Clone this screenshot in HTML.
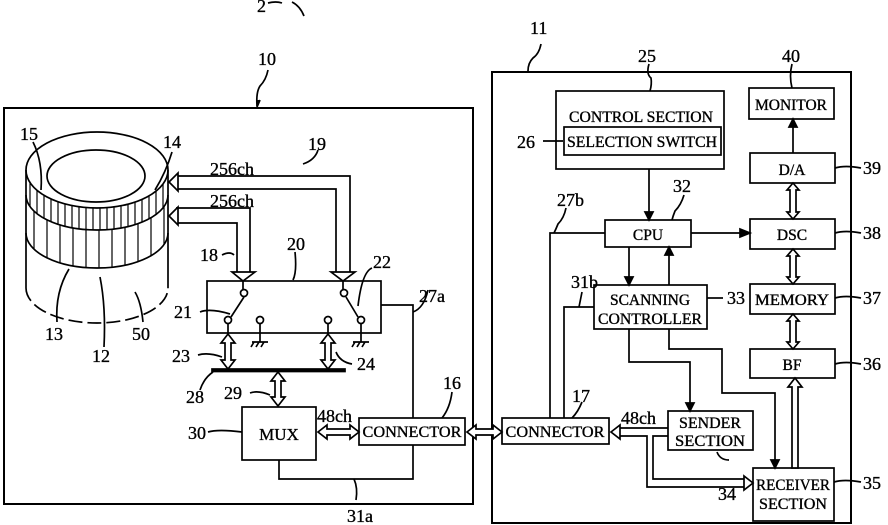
<!DOCTYPE html>
<html><head><meta charset="utf-8"><style>
html,body{margin:0;padding:0;background:#fff;}
svg{display:block;}
text{font-family:"Liberation Serif",serif;fill:#000;stroke:#000;stroke-width:0.35;}
.l{font-size:18px;}
.b{font-size:15.5px;}
</style></head><body>
<svg width="888" height="525" viewBox="0 0 888 525" xmlns="http://www.w3.org/2000/svg">
<g fill="none" stroke="#000" stroke-width="1.7">
<rect x="4" y="108" width="469" height="396" stroke-width="2"/>
<rect x="492" y="72" width="359" height="451" stroke-width="2"/>
<path d="M268 70 q-2 10 -8 16 q-4 6 -3 20"/>
<path d="M258 100 l-1 7 l3 -7" fill="#000"/>
<path d="M541 44 q-2 10 -8 14 q-5 5 -5 13"/>
<path d="M292 2 q8 4 12 14"/>
<path d="M268 3 q8 -2 14 0"/>
<ellipse cx="97" cy="170" rx="71" ry="38"/>
<ellipse cx="96" cy="176" rx="49" ry="26"/>
<path d="M26 170 V288 M168 170 V288"/>
<path d="M26 195 A71 35 0 0 0 168 195"/>
<path d="M26 233 A71 35 0 0 0 168 233"/>
<path d="M26 288 A71 35 0 0 0 168 288" stroke-dasharray="14 5"/>
<g id="stripes" stroke-width="1.2"></g>
<path d="M33 142 q10 20 8 48"/>
<path d="M172 152 q-6 20 -17 38"/>
<path d="M57 322 q-2 -30 12 -53"/>
<path d="M104 347 q2 -40 -4 -70"/>
<path d="M143 322 q-2 -20 -8 -30"/>
<path d="M176 176 H350 V272 M176 189 H336 V272"/>
<path d="M176 208 H250 V272 M176 223 H237 V272"/>
<path d="M169 182 l9 -9 v18 z" fill="#fff"/>
<path d="M169 216 l9 -9 v18 z" fill="#fff"/>
<path d="M331 272 h24 l-12 9 z" fill="#fff"/>
<path d="M232 272 h23 l-12 9 z" fill="#fff"/>
<path d="M318 150 q-3 10 -15 14"/>
<path d="M222 255 q8 -4 12 0"/>
<path d="M295 252 q2 20 -2 28"/>
<rect x="207" y="281" width="174" height="52"/>
<circle cx="244" cy="293" r="3.5" fill="#fff"/>
<circle cx="228" cy="320" r="3.5" fill="#fff"/>
<circle cx="260" cy="320" r="3.5" fill="#fff"/>
<circle cx="344" cy="293" r="3.5" fill="#fff"/>
<circle cx="361" cy="320" r="3.5" fill="#fff"/>
<circle cx="328" cy="320" r="3.5" fill="#fff"/>
<path d="M243 281 v8 M343 281 v8"/>
<path d="M231 317 L244 297 M346 297 L358 317"/>
<path d="M260 324 V342 M252 342 h16 M254 342 l-3 5 M259 342 l-3 5 M264 342 l-3 5"/>
<path d="M361 324 V342 M353 342 h16 M355 342 l-3 5 M360 342 l-3 5 M365 342 l-3 5"/>
<path d="M228 324 V334 M328 324 V334"/>
<path d="M200 312 q10 -4 30 2"/>
<path d="M372 268 q-10 4 -14 38"/>
<path d="M228 334 l7 9 h-4 v17 h4 l-7 9 l-7 -9 h4 v-17 h-4 z" fill="#fff"/>
<path d="M328 334 l7 9 h-4 v17 h4 l-7 9 l-7 -9 h4 v-17 h-4 z" fill="#fff"/>
<rect x="212" y="369" width="133" height="2.5" fill="#000"/>
<path d="M278 372 l7 9 h-4 v16 h4 l-7 9 l-7 -9 h4 v-16 h-4 z" fill="#fff"/>
<path d="M198 355 q10 -3 24 2"/>
<path d="M336 352 q4 10 16 12"/>
<path d="M200 390 q4 -12 13 -18"/>
<path d="M250 393 q8 -3 20 2"/>
<rect x="242" y="407" width="74" height="53"/>
<rect x="359" y="418" width="106" height="27"/>
<path d="M208 432 q10 -3 34 0"/>
<path d="M452 392 q-2 16 -10 26"/>
<path d="M318 432 l9 -7 v4 h23 v-4 l9 7 l-9 7 v-4 h-23 v4 z" fill="#fff"/>
<path d="M381 305 H413 V418 M279 460 V479 H413 V445"/>
<path d="M428 290 q-4 18 -15 22"/>
<path d="M356 500 q2 -12 -2 -21"/>
<path d="M467 432 l9 -7 v4 h17 v-4 l9 7 l-9 7 v-4 h-17 v4 z" fill="#fff"/>
<rect x="556" y="91" width="168" height="78"/>
<rect x="564" y="127" width="157" height="28"/>
<path d="M543 141 h20"/>
<path d="M649 64 q-3 10 2 14 q1 6 -1 13"/>
<rect x="605" y="220" width="86" height="27"/>
<rect x="749" y="88" width="85" height="31"/>
<rect x="750" y="153" width="85" height="30"/>
<rect x="750" y="219" width="85" height="30"/>
<rect x="750" y="284" width="85" height="30"/>
<rect x="750" y="349" width="85" height="29"/>
<rect x="753" y="468" width="81" height="53"/>
<rect x="594" y="285" width="113" height="44"/>
<rect x="668" y="411" width="85" height="39"/>
<rect x="502" y="418" width="107" height="26"/>
<path d="M792 64 q-3 12 0 24"/>
<path d="M835 168 q10 -3 26 0 M835 233 q10 -3 26 0 M835 298 q10 -3 26 0 M835 364 q10 -3 26 0 M834 482 q10 -3 27 0"/>
<path d="M707 298 h16"/>
<path d="M649 169 V216"/><path d="M645 212 h8 l-4 8 z" fill="#000"/>
<path d="M691 233 H744"/><path d="M740 229 v8 l10 -4 z" fill="#000"/>
<path d="M629 247 V280"/><path d="M625 277 h8 l-4 8 z" fill="#000"/>
<path d="M669 285 V252"/><path d="M665 255 h8 l-4 -8 z" fill="#000"/>
<path d="M793 153 V125"/><path d="M789 127 h8 l-4 -8 z" fill="#000"/>
<path d="M605 233 H550 V418 M594 307 H564 V418"/>
<path d="M629 329 V362 H690 V405"/><path d="M686 403 h8 l-4 8 z" fill="#000"/>
<path d="M669 329 V349 H722 V393 H775 V462"/><path d="M771 460 h8 l-4 8 z" fill="#000"/>
<path d="M793 183 l6 7 h-3 v22 h3 l-6 7 l-6 -7 h3 v-22 h-3 l6 -7 z" fill="#fff"/>
<path d="M793 249 l6 7 h-3 v21 h3 l-6 7 l-6 -7 h3 v-21 h-3 l6 -7 z" fill="#fff"/>
<path d="M793 314 l6 7 h-3 v21 h3 l-6 7 l-6 -7 h3 v-21 h-3 l6 -7 z" fill="#fff"/>
<path d="M795 378 l7 9 h-4 v81 h-6 v-81 h-4 z" fill="#fff"/>
<path d="M566 208 q-2 10 -8 16 q-2 5 -4 9"/>
<path d="M684 195 q-3 10 -9 16 q-2 5 -3 9"/>
<path d="M582 292 q-2 10 -3 15"/>
<path d="M582 402 q-4 10 -10 16"/>
<path d="M717 452 q3 8 12 8"/>
<path d="M668 428 H619 M668 436 H653 V479 H745 M619 436 H647 V487 H745"/>
<path d="M611 432 l9 -7 v14 z" fill="#fff"/>
<path d="M753 483 l-9 -7 v14 z" fill="#fff"/>
</g>
<g class="l">
<text x="257" y="12">2</text>
<text x="258" y="65">10</text>
<text x="530" y="34">11</text>
<text x="20" y="140">15</text>
<text x="163" y="148">14</text>
<text x="308" y="150">19</text>
<text x="210" y="175">256ch</text>
<text x="210" y="207">256ch</text>
<text x="200" y="261">18</text>
<text x="287" y="250">20</text>
<text x="373" y="268">22</text>
<text x="419" y="302">27a</text>
<text x="174" y="318">21</text>
<text x="172" y="362">23</text>
<text x="357" y="370">24</text>
<text x="186" y="403">28</text>
<text x="224" y="399">29</text>
<text x="188" y="439">30</text>
<text x="317" y="422">48ch</text>
<text x="443" y="389">16</text>
<text x="347" y="522">31a</text>
<text x="45" y="340">13</text>
<text x="92" y="362">12</text>
<text x="132" y="340">50</text>
<text x="638" y="62">25</text>
<text x="782" y="62">40</text>
<text x="517" y="148">26</text>
<text x="863" y="174">39</text>
<text x="863" y="239">38</text>
<text x="863" y="304">37</text>
<text x="863" y="370">36</text>
<text x="863" y="489">35</text>
<text x="727" y="304">33</text>
<text x="718" y="500">34</text>
<text x="572" y="402">17</text>
<text x="557" y="206">27b</text>
<text x="571" y="288">31b</text>
<text x="673" y="192">32</text>
<text x="621" y="424">48ch</text>
</g>
<g class="b" text-anchor="middle">
<text x="641" y="122" textLength="144" lengthAdjust="spacingAndGlyphs">CONTROL SECTION</text>
<text x="642" y="147" textLength="150" lengthAdjust="spacingAndGlyphs">SELECTION SWITCH</text>
<text x="791" y="110" textLength="72" lengthAdjust="spacingAndGlyphs">MONITOR</text>
<text x="792" y="175">D/A</text>
<text x="792" y="240">DSC</text>
<text x="792" y="305" textLength="74" lengthAdjust="spacingAndGlyphs">MEMORY</text>
<text x="792" y="370">BF</text>
<text x="648" y="240">CPU</text>
<text x="650" y="305" textLength="80" lengthAdjust="spacingAndGlyphs">SCANNING</text>
<text x="650" y="324" textLength="104" lengthAdjust="spacingAndGlyphs">CONTROLLER</text>
<text x="710" y="428" textLength="62" lengthAdjust="spacingAndGlyphs">SENDER</text>
<text x="710" y="446" textLength="70" lengthAdjust="spacingAndGlyphs">SECTION</text>
<text x="793" y="490" textLength="74" lengthAdjust="spacingAndGlyphs">RECEIVER</text>
<text x="793" y="509" textLength="68" lengthAdjust="spacingAndGlyphs">SECTION</text>
<text x="555" y="437" textLength="99" lengthAdjust="spacingAndGlyphs">CONNECTOR</text>
<text x="412" y="437" textLength="99" lengthAdjust="spacingAndGlyphs">CONNECTOR</text>
<text x="279" y="440" style="font-size:17px">MUX</text>
</g>
</svg>
<script>
(function(){
var g=document.getElementById('stripes'),ns='http://www.w3.org/2000/svg';
function y(x,cy,ry){var t=(x-97)/71;return cy+ry*Math.sqrt(Math.max(0,1-t*t));}
function ln(x,a,b){var l=document.createElementNS(ns,'line');l.setAttribute('x1',x);l.setAttribute('x2',x);l.setAttribute('y1',a);l.setAttribute('y2',b);g.appendChild(l);}
for(var x=30;x<166;x+=7){ln(x,y(x,170,38),y(x,195,35));}
for(var x=34;x<166;x+=13){ln(x,y(x,195,35),y(x,233,35));}
})();
</script>
</body></html>
